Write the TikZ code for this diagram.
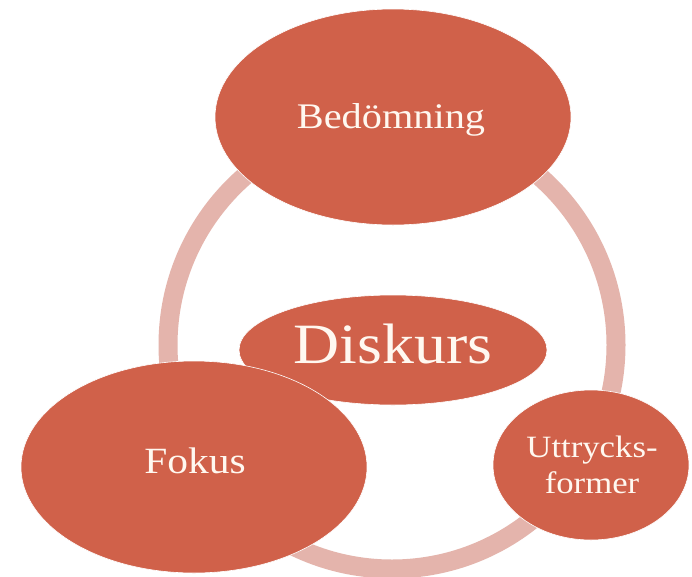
\documentclass[tikz,border=0pt]{standalone}
\usepackage{fontspec}
\setmainfont[FakeStretch=1.12]{Liberation Serif}
\usetikzlibrary{shapes.geometric}
\definecolor{blobfill}{HTML}{D0614A}
\definecolor{ringcol}{HTML}{E4B4AC}
\definecolor{txtcol}{HTML}{FFF8F0}
\tikzset{
  blob/.style={ellipse, fill=blobfill, draw=white, line width=0.6pt, inner sep=0pt},
  lbl/.style={text=txtcol, anchor=base, inner sep=0pt},
}
\begin{document}
\begin{tikzpicture}[x=1pt,y=-1pt]
\useasboundingbox (0,0) rectangle (692,576);
\fill[white] (0,0) rectangle (692,576);
\draw[ringcol, line width=19pt] (392,345) circle[radius=224pt];
\node[blob, minimum width=356pt, minimum height=216pt] (bed) at (393,117) {};
\node[blob, minimum width=308pt, minimum height=110pt] (dis) at (393,350) {};
\node[blob, minimum width=346pt, minimum height=212pt] (fok) at (194,467) {};
\node[blob, minimum width=196pt, minimum height=150pt] (utt) at (591,465) {};
\node[lbl, font=\fontsize{36}{40}\selectfont] (tbed) at (391,128) {Bedömning};
\node[lbl, font=\fontsize{57}{62}\selectfont] (tdis) at (393,363) {Diskurs};
\node[lbl, font=\fontsize{37}{40}\selectfont] (tfok) at (195,473) {Fokus};
\node[lbl, font=\fontsize{31}{36}\selectfont] (tutta) at (592,457) {Uttrycks-};
\node[lbl, font=\fontsize{31}{36}\selectfont] (tuttb) at (592,493) {former};
\end{tikzpicture}
\end{document}
